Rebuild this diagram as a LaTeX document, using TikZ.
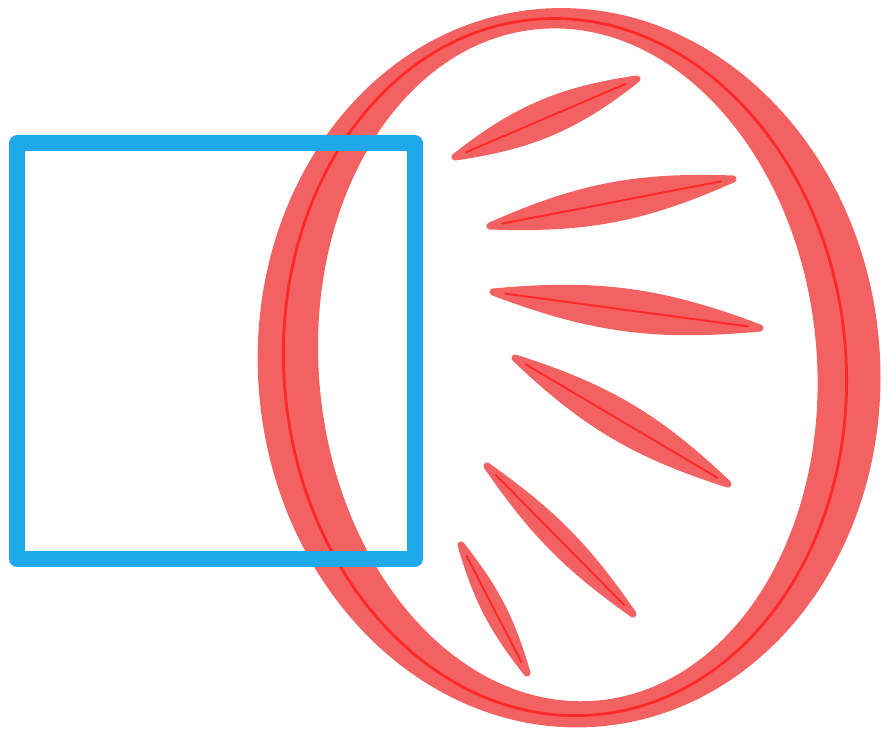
\documentclass[tikz,border=0pt]{standalone}
\usepackage{xcolor}
\definecolor{marker-blue}{HTML}{1FA8EA}
\definecolor{marker-red}{HTML}{F26262}
\definecolor{ink-red}{HTML}{FF2828}

\begin{document}
\begin{tikzpicture}[x=0.02cm, y=-0.02cm,
    band/.style={fill=marker-red, even odd rule},
    inkline/.style={draw=ink-red, line width=1.6pt},
    leaf/.style={fill=marker-red, draw=marker-red, line width=4pt, line join=round},
    leafline/.style={draw=ink-red, line width=1.1pt, line cap=round, shorten <=7pt, shorten >=7pt},
    box/.style={draw=marker-blue, line width=9pt, line join=round}]
  \useasboundingbox (0,0) rectangle (890,737);
  % red ring: broad pale band, darker middle stroke
  \begin{scope}[rotate around={5:(566,367)}]
    \fill[band] (569,368) ellipse [x radius=311, y radius=360]
                (568,365) ellipse [x radius=249, y radius=337];
    \draw[inkline] (565,367) ellipse [x radius=281, y radius=349];
  \end{scope}
  % the six rays inside the ring
  \coordinate (r1a) at (455,157); \coordinate (r1b) at (637,79);
  \coordinate (r2a) at (490,226); \coordinate (r2b) at (733,179);
  \coordinate (r3a) at (493,292); \coordinate (r3b) at (760,328);
  \coordinate (r4a) at (515,358); \coordinate (r4b) at (728,484);
  \coordinate (r5a) at (487,466); \coordinate (r5b) at (633,614);
  \coordinate (r6a) at (461,545); \coordinate (r6b) at (527,673);
  \fill[leaf] (r1a) to[bend left=15] (r1b) to[bend left=15] cycle;
  \fill[leaf] (r2a) to[bend left=13] (r2b) to[bend left=13] cycle;
  \fill[leaf] (r3a) to[bend left=13] (r3b) to[bend left=13] cycle;
  \fill[leaf] (r4a) to[bend left=13] (r4b) to[bend left=13] cycle;
  \fill[leaf] (r5a) to[bend left=10] (r5b) to[bend left=10] cycle;
  \fill[leaf] (r6a) to[bend left=11] (r6b) to[bend left=11] cycle;
  \draw[leafline] (r1a) -- (r1b);
  \draw[leafline] (r2a) -- (r2b);
  \draw[leafline] (r3a) -- (r3b);
  \draw[leafline] (r4a) -- (r4b);
  \draw[leafline] (r5a) -- (r5b);
  \draw[leafline] (r6a) -- (r6b);
  % blue square on top
  \draw[box] (17,143) rectangle (415,559);
\end{tikzpicture}
\end{document}
